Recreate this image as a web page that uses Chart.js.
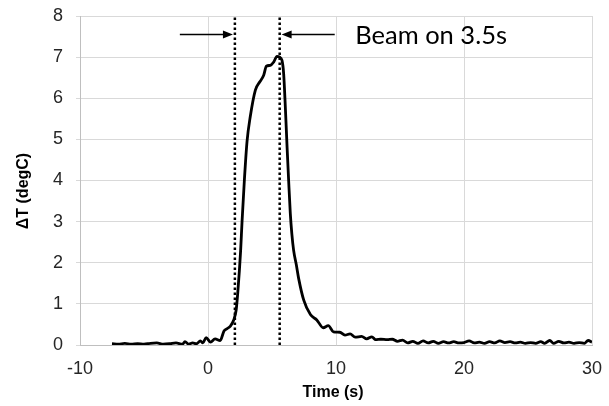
<!DOCTYPE html>
<html>
<head>
<meta charset="utf-8">
<script src="https://cdn.jsdelivr.net/npm/chart.js@4/dist/chart.umd.min.js"></script>
<style>
html,body{margin:0;padding:0;background:#fff;}
#wrap{width:609px;height:406px;position:relative;}
</style>
</head>
<body>
<div id="wrap"><canvas id="c" width="609" height="406"></canvas></div>
<script>
// ---- data ----
const timeS = [-7.5,-7.0,-6.5,-6.0,-5.5,-5.0,-4.5,-4.0,-3.5,-3.0,-2.5,-2.0,-1.8,-1.5,-1.2,-0.9,-0.6,-0.4,-0.15,0.2,0.55,0.95,1.25,1.5,1.75,2.0,2.2,2.32,2.45,2.55,2.66,2.84,3.05,3.3,3.7,4.05,4.35,4.56,4.87,5.13,5.39,5.6,5.78,5.91,6.04,6.18,6.3,6.43,6.55,6.69,6.9,7.08,7.48,8.0,8.5,9.0,9.4,9.8,10.3,10.7,11.1,11.5,12.0,12.4,12.8,13.1,13.5,14.0,14.4,14.8,15.2,15.6,16.0,16.4,16.8,17.2,17.6,18.0,18.4,18.8,19.2,19.6,20.0,20.4,20.8,21.2,21.6,22.0,22.4,22.8,23.2,23.6,24.0,24.4,24.8,25.2,25.6,26.0,26.3,26.7,27.0,27.4,27.8,28.2,28.6,29.0,29.4,29.7,30.0];
const deltaT = [0.03,0.02,0.04,0.02,0.03,0.02,0.04,0.05,0.02,0.03,0.05,0.02,0.08,0.02,0.05,0.03,0.10,0.05,0.18,0.07,0.15,0.11,0.34,0.40,0.46,0.60,0.85,1.25,1.80,2.30,3.00,4.00,4.95,5.55,6.20,6.40,6.56,6.78,6.80,6.88,7.02,7.00,6.92,6.60,5.80,4.80,4.00,3.20,2.70,2.30,1.95,1.62,1.09,0.74,0.61,0.42,0.47,0.32,0.31,0.24,0.27,0.19,0.21,0.15,0.20,0.13,0.14,0.13,0.14,0.09,0.12,0.05,0.09,0.04,0.10,0.05,0.09,0.04,0.08,0.05,0.08,0.05,0.06,0.10,0.05,0.07,0.04,0.08,0.05,0.10,0.06,0.08,0.05,0.07,0.04,0.06,0.04,0.08,0.04,0.11,0.04,0.09,0.05,0.07,0.04,0.06,0.04,0.11,0.07];
const beamMarkers = [2.1, 5.6];          // dotted lines (s)
const arrowLevel = 7.55;                 // degC
const leftArrow = [-2.2, 1.95];          // from, to (s)
const rightArrow = [9.9, 5.75];          // from, to (s)
const noteText = 'Beam on 3.5s';
const noteX = 11.5;
const xTicks = [-10, 0, 10, 20, 30];
const yTicks = [0,1,2,3,4,5,6,7,8];
const xTitle = 'Time (s)';
const yTitle = '\u0394T (degC)';

const curve = timeS.map((t,i)=>({x:t,y:deltaT[i]}));
const markerSets = beamMarkers.map(t=>({
  data:[{x:t,y:yTicks[0]},{x:t,y:yTicks[yTicks.length-1]}],
  borderColor:'#000', borderWidth:2.5, borderDash:[2.5,2.5], pointRadius:0, showLine:true, fill:false, tension:0, order:2
}));

const extras = {
  id:'extras',
  afterDatasetsDraw(chart){
    const {ctx, scales:{x,y}, chartArea} = chart;
    ctx.save();
    const drawArrow = (from,to)=>{
      const x1=x.getPixelForValue(from), x2=x.getPixelForValue(to), yy=y.getPixelForValue(arrowLevel);
      const dir = Math.sign(x2-x1);
      ctx.strokeStyle='#000'; ctx.lineWidth=1.3;
      ctx.beginPath(); ctx.moveTo(x1,yy); ctx.lineTo(x2-dir*9,yy); ctx.stroke();
      ctx.fillStyle='#000';
      ctx.beginPath(); ctx.moveTo(x2,yy); ctx.lineTo(x2-dir*10,yy-4); ctx.lineTo(x2-dir*10,yy+4); ctx.closePath(); ctx.fill();
    };
    drawArrow(leftArrow[0],leftArrow[1]);
    drawArrow(rightArrow[0],rightArrow[1]);
    ctx.fillStyle='#000';
    ctx.font='25.5px Lato, "Open Sans", sans-serif';
    ctx.textAlign='left'; ctx.textBaseline='middle';
    ctx.fillText(noteText, x.getPixelForValue(noteX), y.getPixelForValue(arrowLevel)+1);
    // axis titles
    ctx.font='bold 16px "Liberation Sans", Arial, sans-serif';
    ctx.textAlign='center'; ctx.textBaseline='middle';
    ctx.fillText(xTitle, (chartArea.left+chartArea.right)/2 - 3, 393);
    ctx.translate(24, 191);
    ctx.rotate(-Math.PI/2);
    ctx.fillText(yTitle, 0, 0);
    ctx.restore();
  }
};

new Chart(document.getElementById('c'), {
  type:'scatter',
  data:{datasets:[
    {data:curve, borderColor:'#000', borderWidth:2.8, pointRadius:0, showLine:true, fill:false, cubicInterpolationMode:'monotone', order:1},
    ...markerSets
  ]},
  options:{
    responsive:false, animation:false,
    layout:{padding:{left:0,right:17,top:16,bottom:0}},
    plugins:{legend:{display:false}, tooltip:{enabled:false}},
    scales:{
      x:{
        type:'linear', min:xTicks[0], max:xTicks[xTicks.length-1],
        afterBuildTicks(s){ s.ticks = xTicks.map(v=>({value:v})); },
        afterFit(s){ s.height = 61; s.paddingLeft = 0; s.paddingRight = 0; },
        grid:{color:'#d9d9d9', lineWidth:1, drawTicks:false},
        border:{color:'#bfbfbf'},
        ticks:{color:'#262626', padding:13, font:{family:'"Liberation Sans", Arial, sans-serif', size:18}, maxRotation:0}
      },
      y:{
        type:'linear', min:yTicks[0], max:yTicks[yTicks.length-1],
        afterBuildTicks(s){ s.ticks = yTicks.map(v=>({value:v})); },
        afterFit(s){ s.width = 80; s.paddingTop = 0; s.paddingBottom = 0; },
        grid:{color:'#d9d9d9', lineWidth:1, tickLength:4},
        border:{color:'#bfbfbf'},
        ticks:{color:'#262626', padding:13, font:{family:'"Liberation Sans", Arial, sans-serif', size:18}}
      }
    }
  },
  plugins:[extras]
});
</script>
</body>
</html>
